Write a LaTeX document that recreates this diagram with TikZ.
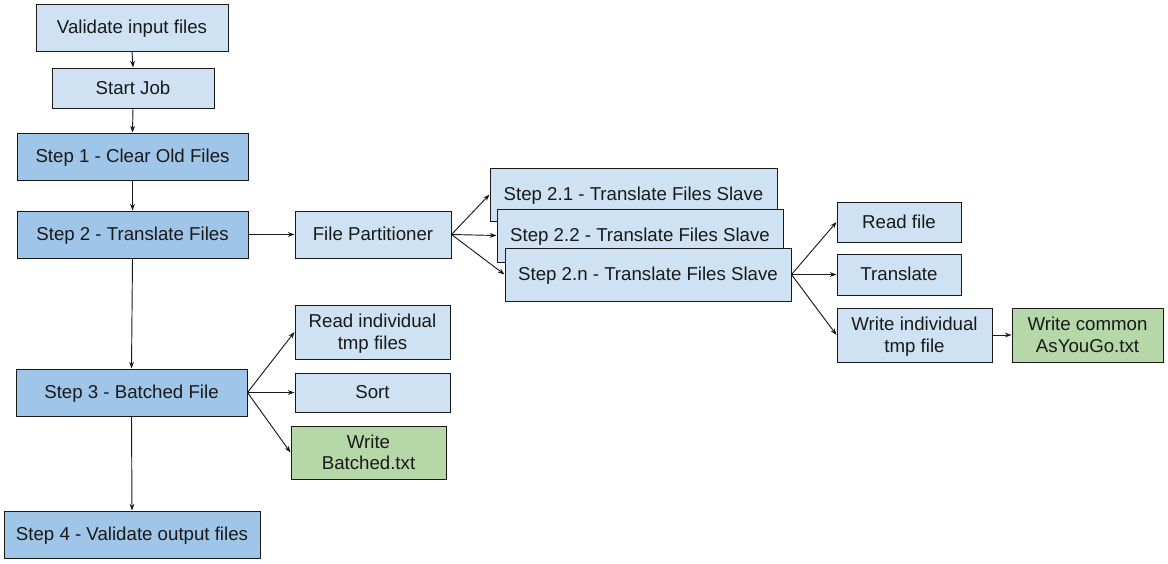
\documentclass[tikz,border=0pt]{standalone}
\usepackage{fontspec}
\setmainfont{Liberation Sans}
\usetikzlibrary{arrows.meta}
\definecolor{lightblue}{HTML}{CFE2F3}
\definecolor{midblue}{HTML}{9FC5E8}
\definecolor{lightgreen}{HTML}{B6D7A8}
\tikzset{
  sz/.style 2 args={minimum width={#1*0.75pt},minimum height={#2*0.75pt}},
  boxbase/.style={draw=black!90,line width=0.75pt,inner sep=0pt,align=center,
    font=\fontsize{14}{16.3}\selectfont,text=black!90,
    text height=12.6pt,text depth=3pt},
  twoline/.style={text height=28.9pt},
  lb/.style={boxbase,fill=lightblue},
  db/.style={boxbase,fill=midblue},
  gb/.style={boxbase,fill=lightgreen},
  conn/.style={draw=black!90,line width=0.7pt,-{Stealth[length=5pt,width=3.6pt]}}
}
\begin{document}
\begin{tikzpicture}[x=0.75pt,y=-0.75pt]
\useasboundingbox (0,0) rectangle (1168,564);
\node[lb,sz={192}{47}] (val) at (132,27.5) {Validate input files};
\node[lb,sz={162}{40}] (start) at (133,88) {Start Job};
\node[db,sz={231}{47}] (s1) at (132.5,156.5) {Step 1 - Clear Old Files};
\node[db,sz={231}{47}] (s2) at (132.5,234.5) {Step 2 - Translate Files};
\node[lb,sz={156}{47}] (fp) at (373,234.5) {File Partitioner};
\node[lb,sz={287}{53}] (s21) at (633.5,194.5) {Step 2.1 - Translate Files Slave};
\node[lb,sz={286}{53}] (s22) at (640,235.5) {Step 2.2 - Translate Files Slave};
\node[lb,sz={286}{53}] (s2n) at (648,274.5) {Step 2.n - Translate Files Slave};
\node[lb,sz={124}{40}] (rf) at (899,222) {Read file};
\node[lb,sz={124}{41}] (tr) at (899,274.5) {Translate};
\node[lb,twoline,sz={155}{54}] (wi) at (914.5,335) {Write individual\\tmp file};
\node[gb,twoline,sz={151}{54}] (wc) at (1087.5,335) {Write common\\AsYouGo.txt};
\node[db,sz={231}{47}] (s3) at (131.5,392.5) {Step 3 - Batched File};
\node[lb,twoline,sz={155}{54}] (ri) at (372.5,332) {Read individual\\tmp files};
\node[lb,sz={155}{39}] (sort) at (372.5,392.5) {Sort};
\node[gb,twoline,sz={155}{53}] (wb) at (368.5,452.5) {Write\\Batched.txt};
\node[db,sz={256}{47}] (s4) at (132,534.5) {Step 4 - Validate output files};

\draw[conn] (val.south) -- (start.north);
\draw[conn] (start.south) -- (s1.north);
\draw[conn] (s1.south) -- (s2.north);
\draw[conn] (s2.south) -- (s3.north);
\draw[conn] (s3.south) -- (s4.north);
\draw[conn] (s2.east) -- (fp.west);
\draw[conn] (fp.east) -- (s21.west);
\draw[conn] (fp.east) -- (s22.west);
\draw[conn] (fp.east) -- (s2n.west);
\draw[conn] (s2n.east) -- (rf.west);
\draw[conn] (s2n.east) -- (tr.west);
\draw[conn] (s2n.east) -- (wi.west);
\draw[conn] (wi.east) -- (wc.west);
\draw[conn] (s3.east) -- (ri.west);
\draw[conn] (s3.east) -- (sort.west);
\draw[conn] (s3.east) -- (wb.west);
\end{tikzpicture}
\end{document}
